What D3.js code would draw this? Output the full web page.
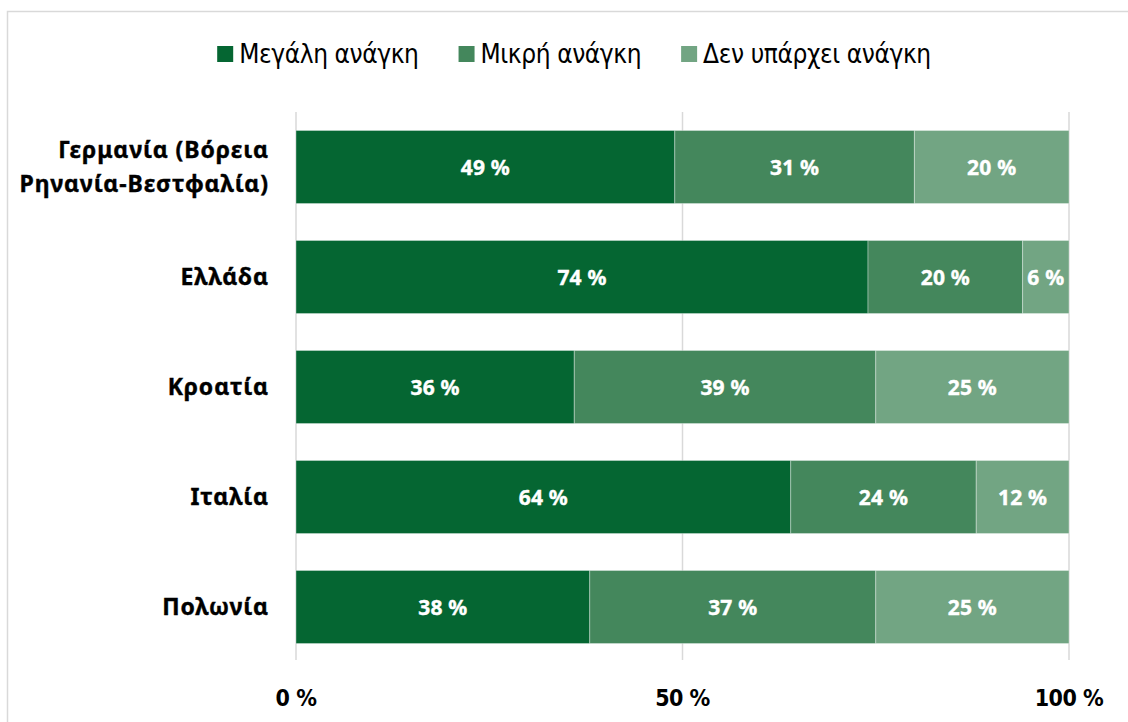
<!DOCTYPE html>
<html>
<head>
<meta charset="utf-8">
<script src="https://cdn.jsdelivr.net/npm/d3@7"></script>
<style>
  html, body { margin: 0; padding: 0; background: #ffffff; }
  svg { display: block; }
</style>
</head>
<body>
<svg id="chart" width="1128" height="722"></svg>
<script>
// Regions surveyed
const categories = [
  "Γερμανία (Βόρεια Ρηνανία-Βεστφαλία)",
  "Ελλάδα",
  "Κροατία",
  "Ιταλία",
  "Πολωνία"
];
// Category label lines (two-line label for the first region)
const categoryLines = [
  ["Γερμανία (Βόρεια", "Ρηνανία-Βεστφαλία)"],
  ["Ελλάδα"],
  ["Κροατία"],
  ["Ιταλία"],
  ["Πολωνία"]
];
const seriesNames = ["Μεγάλη ανάγκη", "Μικρή ανάγκη", "Δεν υπάρχει ανάγκη"];
const bigNeed   = [49, 74, 36, 64, 38];
const smallNeed = [31, 20, 39, 24, 37];
const noNeed    = [20, 6, 25, 12, 25];
const tickValues = [0, 50, 100];
const tickLabels = ["0 %", "50 %", "100 %"];
const colors = ["#056632", "#44875c", "#72a583"];

const svg = d3.select("#chart");
const boldFont = "'Noto Sans', 'Open Sans', sans-serif";
const narrowFont = "'DejaVu Sans Condensed', 'DejaVu Sans', sans-serif";

// Outer frame
svg.append("rect")
  .attr("x", 7.5).attr("y", 11.5)
  .attr("width", 1140).attr("height", 730)
  .attr("fill", "#ffffff")
  .attr("stroke", "#d9d9d9")
  .attr("stroke-width", 1.5);

const x = d3.scaleLinear().domain([0, 100]).range([296, 1069]);
const y = d3.scaleBand().domain(categories).range([112, 662])
  .paddingInner(0.336).paddingOuter(0.168);

// Vertical gridlines
svg.append("g").selectAll("line")
  .data(tickValues)
  .join("line")
  .attr("x1", d => x(d)).attr("x2", d => x(d))
  .attr("y1", 112).attr("y2", 660)
  .attr("stroke", "#d9d9d9")
  .attr("stroke-width", 1.5);

// Stack the three series
const rows = categories.map((c, i) => ({
  cat: c, s0: bigNeed[i], s1: smallNeed[i], s2: noNeed[i]
}));
const layers = d3.stack().keys(["s0", "s1", "s2"])(rows);

const barG = svg.append("g");
layers.forEach((layer, li) => {
  const g = barG.append("g");
  g.selectAll("rect")
    .data(layer)
    .join("rect")
    .attr("x", d => x(d[0]))
    .attr("y", d => y(d.data.cat))
    .attr("width", d => x(d[1]) - x(d[0]))
    .attr("height", y.bandwidth())
    .attr("fill", colors[li])
    .attr("stroke", "rgba(255,255,255,0.35)")
    .attr("stroke-width", 1);
  g.selectAll("text")
    .data(layer)
    .join("text")
    .attr("x", d => (x(d[0]) + x(d[1])) / 2)
    .attr("y", d => y(d.data.cat) + y.bandwidth() / 2)
    .attr("dy", "0.36em")
    .attr("text-anchor", "middle")
    .attr("fill", "#ffffff")
    .attr("font-family", boldFont)
    .attr("font-weight", 700)
    .attr("font-size", 21)
    .attr("letter-spacing", "0.2px")
    .attr("stroke", "#ffffff")
    .attr("stroke-width", 0.4)
    .text(d => (d[1] - d[0]) + " %");
});

// Category labels
const catG = svg.append("g");
categories.forEach((c, i) => {
  const lines = categoryLines[i];
  const cy = y(c) + y.bandwidth() / 2;
  const lh = 34;
  const t = catG.append("text")
    .attr("text-anchor", "end")
    .attr("fill", "#000000")
    .attr("stroke", "#000000")
    .attr("stroke-width", 0.4)
    .attr("font-family", boldFont)
    .attr("font-weight", 700)
    .attr("font-size", 23)
    .attr("letter-spacing", "0.9px");
  lines.forEach((ln, k) => {
    t.append("tspan")
      .attr("x", 269)
      .attr("y", cy + (k - (lines.length - 1) / 2) * lh)
      .attr("dy", "0.36em")
      .text(ln);
  });
});

// Bottom axis labels
svg.append("g").selectAll("text")
  .data(tickValues)
  .join("text")
  .attr("x", d => x(d))
  .attr("y", 698)
  .attr("dy", "0.36em")
  .attr("text-anchor", "middle")
  .attr("fill", "#000000")
  .attr("font-family", narrowFont)
  .attr("font-weight", 700)
  .attr("font-size", 23)
  .attr("letter-spacing", "-0.5px")
  .text((d, i) => tickLabels[i]);

// Legend: items laid out left to right, centred on the frame
const legend = svg.append("g");
const sw = 16, swGap = 6, itemGap = 40;
const items = seriesNames.map((name, i) => {
  const g = legend.append("g");
  g.append("rect")
    .attr("x", 0).attr("y", -sw / 2)
    .attr("width", sw).attr("height", sw)
    .attr("fill", colors[i]);
  const t = g.append("text")
    .attr("x", sw + swGap)
    .attr("y", 0)
    .attr("dy", "0.36em")
    .attr("fill", "#000000")
    .attr("font-family", narrowFont)
    .attr("font-size", 26)
    .attr("letter-spacing", "-0.4px")
    .text(name);
  return { g, w: sw + swGap + t.node().getComputedTextLength() };
});
const totalW = d3.sum(items, d => d.w) + itemGap * (items.length - 1);
let cx = 574 - totalW / 2;
items.forEach(it => {
  it.g.attr("transform", `translate(${cx},54)`);
  cx += it.w + itemGap;
});
</script>
</body>
</html>
